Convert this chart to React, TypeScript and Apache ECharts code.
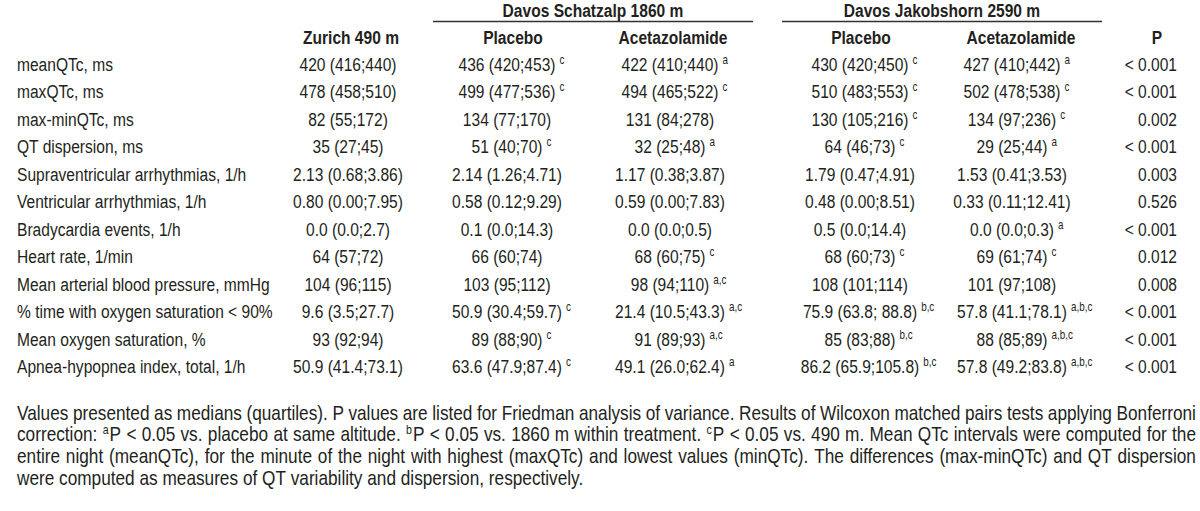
import React, { useEffect, useRef } from "react";
import * as echarts from "echarts";

// ---------- data ----------
const groupHeaders = ["Davos Schatzalp 1860 m", "Davos Jakobshorn 2590 m"];
const columnHeaders = ["Zurich 490 m", "Placebo", "Acetazolamide", "Placebo", "Acetazolamide", "P"];

const rowLabels = [
  "meanQTc, ms",
  "maxQTc, ms",
  "max-minQTc, ms",
  "QT dispersion, ms",
  "Supraventricular arrhythmias, 1/h",
  "Ventricular arrhythmias, 1/h",
  "Bradycardia events, 1/h",
  "Heart rate, 1/min",
  "Mean arterial blood pressure, mmHg",
  "% time with oxygen saturation < 90%",
  "Mean oxygen saturation, %",
  "Apnea-hypopnea index, total, 1/h",
];

const zurich = [
  "420 (416;440)", "478 (458;510)", "82 (55;172)", "35 (27;45)", "2.13 (0.68;3.86)", "0.80 (0.00;7.95)",
  "0.0 (0.0;2.7)", "64 (57;72)", "104 (96;115)", "9.6 (3.5;27.7)", "93 (92;94)", "50.9 (41.4;73.1)",
];
const zurichSup = ["", "", "", "", "", "", "", "", "", "", "", ""];

const schatzPlacebo = [
  "436 (420;453)", "499 (477;536)", "134 (77;170)", "51 (40;70)", "2.14 (1.26;4.71)", "0.58 (0.12;9.29)",
  "0.1 (0.0;14.3)", "66 (60;74)", "103 (95;112)", "50.9 (30.4;59.7)", "89 (88;90)", "63.6 (47.9;87.4)",
];
const schatzPlaceboSup = ["c", "c", "", "c", "", "", "", "", "", "c", "c", "c"];

const schatzAceta = [
  "422 (410;440)", "494 (465;522)", "131 (84;278)", "32 (25;48)", "1.17 (0.38;3.87)", "0.59 (0.00;7.83)",
  "0.0 (0.0;0.5)", "68 (60;75)", "98 (94;110)", "21.4 (10.5;43.3)", "91 (89;93)", "49.1 (26.0;62.4)",
];
const schatzAcetaSup = ["a", "c", "", "a", "", "", "", "c", "a,c", "a,c", "a,c", "a"];

const jakobPlacebo = [
  "430 (420;450)", "510 (483;553)", "130 (105;216)", "64 (46;73)", "1.79 (0.47;4.91)", "0.48 (0.00;8.51)",
  "0.5 (0.0;14.4)", "68 (60;73)", "108 (101;114)", "75.9 (63.8; 88.8)", "85 (83;88)", "86.2 (65.9;105.8)",
];
const jakobPlaceboSup = ["c", "c", "c", "c", "", "", "", "c", "", "b,c", "b,c", "b,c"];

const jakobAceta = [
  "427 (410;442)", "502 (478;538)", "134 (97;236)", "29 (25;44)", "1.53 (0.41;3.53)", "0.33 (0.11;12.41)",
  "0.0 (0.0;0.3)", "69 (61;74)", "101 (97;108)", "57.8 (41.1;78.1)", "88 (85;89)", "57.8 (49.2;83.8)",
];
const jakobAcetaSup = ["a", "c", "c", "a", "", "", "a", "c", "", "a,b,c", "a,b,c", "a,b,c"];

const pValues = [
  "< 0.001", "< 0.001", "0.002", "< 0.001", "0.003", "0.526",
  "< 0.001", "0.012", "0.008", "< 0.001", "< 0.001", "< 0.001",
];

// "^x" marks a superscript letter placed before the following word
const footnoteLines = [
  "Values presented as medians (quartiles). P values are listed for Friedman analysis of variance. Results of Wilcoxon matched pairs tests applying Bonferroni",
  "correction: ^aP < 0.05 vs. placebo at same altitude. ^bP < 0.05 vs. 1860 m within treatment. ^cP < 0.05 vs. 490 m. Mean QTc intervals were computed for the",
  "entire night (meanQTc), for the minute of the night with highest (maxQTc) and lowest values (minQTc). The differences (max-minQTc) and QT dispersion",
  "were computed as measures of QT variability and dispersion, respectively.",
];
const footnoteJustify = [true, true, true, false];

// ---------- layout ----------
const TEXT = "#231f20";
const FS = 19;
const SUP_FS = 12;
const FOOT_FS = 21;
const FOOT_SUP_FS = 13;
const LABEL_X = 17;
const HEADER1_Y = 10.5;
const RULE_Y = 21.5;
const HEADER2_Y = 37.5;
const ROW0_Y = 64;
const ROW_H = 27.5;
const FOOT0_Y = 412.5;
const FOOT_H = 21.8;
const FOOT_RIGHT = 1196;
const headerCenters = [351, 513, 673, 861, 1021, 1157];
const dataCenters = [348, 507, 670, 860, 1012];
const P_RIGHT = 1177;
const groupCenters = [593, 942];
const rules = [
  [433, 753],
  [782, 1102],
];

export default function App() {
  const ref = useRef<HTMLDivElement>(null);

  useEffect(() => {
    document.body.style.margin = "0";
    const el = ref.current!;
    const chart = echarts.init(el, null, { renderer: "svg" });

    const canvas = document.createElement("canvas");
    const ctx = canvas.getContext("2d")!;
    const probe = "Acetazolamide 0123456789 (Wilcoxon)";
    ctx.font = `${FS}px monospace`;
    const mono = ctx.measureText(probe).width;
    ctx.font = `${FS}px "Liberation Sans Narrow", monospace`;
    const narrow = ctx.measureText(probe).width;
    const hasNarrow = Math.abs(mono - narrow) > 0.5;
    const FAMILY = hasNarrow ? '"Liberation Sans Narrow", "Arial Narrow"' : '"Liberation Sans", Arial, sans-serif';
    const SX = hasNarrow ? 1 : 0.82;

    const measure = (t: string, size: number, weight = "normal") => {
      ctx.font = `${weight} ${size}px ${FAMILY}`;
      return ctx.measureText(t).width * SX;
    };

    const txt = (
      text: string,
      x: number,
      y: number,
      opts: { size?: number; weight?: string; align?: string } = {}
    ) => ({
      type: "text",
      x,
      y,
      scaleX: SX,
      silent: true,
      style: {
        text,
        fill: TEXT,
        fontSize: opts.size ?? FS,
        fontWeight: opts.weight ?? "normal",
        fontFamily: FAMILY,
        align: opts.align ?? "left",
        verticalAlign: "middle",
      },
    });

    const elements: any[] = [];

    // group headers + rules
    groupHeaders.forEach((h, i) => {
      elements.push(txt(h, groupCenters[i], HEADER1_Y, { weight: "bold", align: "center" }));
      elements.push({
        type: "line",
        silent: true,
        shape: { x1: rules[i][0], y1: RULE_Y, x2: rules[i][1], y2: RULE_Y },
        style: { stroke: "#333", lineWidth: 1.5 },
      });
    });

    // column headers
    columnHeaders.forEach((h, i) => {
      elements.push(txt(h, headerCenters[i], HEADER2_Y, { weight: "bold", align: "center" }));
    });

    const cols = [
      [zurich, zurichSup],
      [schatzPlacebo, schatzPlaceboSup],
      [schatzAceta, schatzAcetaSup],
      [jakobPlacebo, jakobPlaceboSup],
      [jakobAceta, jakobAcetaSup],
    ];

    rowLabels.forEach((label, r) => {
      const y = ROW0_Y + r * ROW_H;
      elements.push(txt(label, LABEL_X, y));
      cols.forEach(([vals, sups], c) => {
        const cx = dataCenters[c];
        const v = vals[r];
        elements.push(txt(v, cx, y, { align: "center" }));
        if (sups[r]) {
          const w = measure(v, FS);
          elements.push(txt(sups[r], cx + w / 2 + 4, y - 4.5, { size: SUP_FS }));
        }
      });
      elements.push(txt(pValues[r], P_RIGHT, y, { align: "right" }));
    });

    // footnote, word by word (justified lines)
    const spaceW = measure(" ", FOOT_FS);
    footnoteLines.forEach((line, li) => {
      const y = FOOT0_Y + li * FOOT_H;
      const words = line.split(" ").map((w) => {
        if (w.startsWith("^")) {
          const sup = w.charAt(1);
          const text = w.slice(2);
          const sw = measure(sup, FOOT_SUP_FS) + 1;
          return { sup, text, sw, w: sw + measure(text, FOOT_FS) };
        }
        return { sup: "", text: w, sw: 0, w: measure(w, FOOT_FS) };
      });
      const total = words.reduce((s, w) => s + w.w, 0);
      const gap = footnoteJustify[li] && words.length > 1
        ? Math.max(spaceW * 0.6, (FOOT_RIGHT - LABEL_X - total) / (words.length - 1))
        : spaceW;
      let x = LABEL_X;
      words.forEach((w) => {
        if (w.sup) {
          elements.push(txt(w.sup, x, y - 5, { size: FOOT_SUP_FS }));
        }
        elements.push(txt(w.text, x + w.sw, y, { size: FOOT_FS }));
        x += w.w + gap;
      });
    });

    chart.setOption({
      animation: false,
      backgroundColor: "#ffffff",
      graphic: { elements },
    });

    return () => {
      chart.dispose();
    };
  }, []);

  return <div ref={ref} style={{ width: 1200, height: 511 }} />;
}
